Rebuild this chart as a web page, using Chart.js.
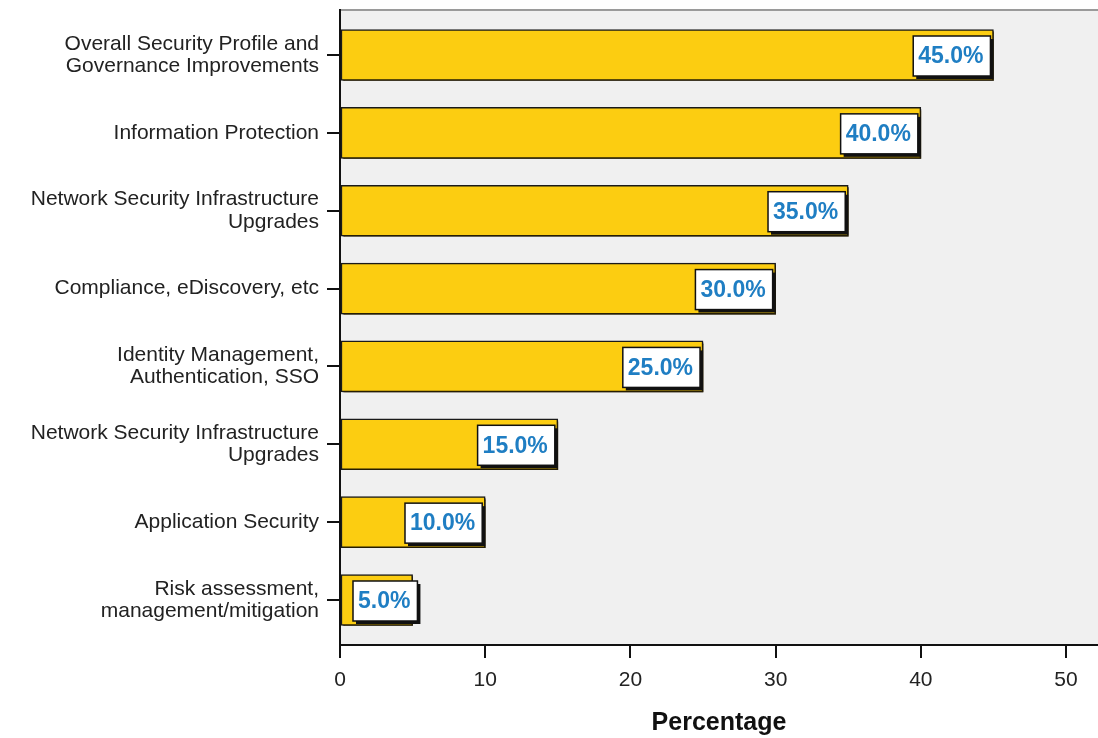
<!DOCTYPE html>
<html>
<head>
<meta charset="utf-8">
<script src="https://cdn.jsdelivr.net/npm/chart.js@4.4.0/dist/chart.umd.min.js"></script>
<style>
  html, body { margin: 0; padding: 0; background: #fff; }
  #wrap { width: 1098px; height: 738px; }
</style>
</head>
<body>
<div id="wrap"><canvas id="c"></canvas></div>
<script>
// données
const categories = [
  ["Overall Security Profile and", "Governance Improvements"],
  ["Information Protection"],
  ["Network Security Infrastructure", "Upgrades"],
  ["Compliance, eDiscovery, etc"],
  ["Identity Management,", "Authentication, SSO"],
  ["Network Security Infrastructure", "Upgrades"],
  ["Application Security"],
  ["Risk assessment,", "management/mitigation"]
]
const percentages = [45, 40, 35, 30, 25, 15, 10, 5]
const xTicks = [0, 10, 20, 30, 40, 50]

const FONT = "'Liberation Sans', Arial, sans-serif"

// fond gris de la zone de tracé
const panelPlugin = {
  id: "panel",
  beforeDraw(chart) {
    const { ctx, chartArea: a } = chart
    ctx.save()
    ctx.fillStyle = "#f0f0f0"
    ctx.fillRect(a.left, a.top, a.right - a.left, a.bottom - a.top)
    ctx.strokeStyle = "#9a9a9a"
    ctx.lineWidth = 2
    ctx.beginPath()
    ctx.moveTo(a.left, a.top)
    ctx.lineTo(a.right, a.top)
    ctx.stroke()
    ctx.restore()
  }
}

// ombre sous les barres
const shadowPlugin = {
  id: "barShadow",
  beforeDatasetDraw(chart) {
    const ctx = chart.ctx
    ctx.save()
    ctx.shadowColor = "rgba(40, 30, 0, 0.85)"
    ctx.shadowOffsetX = 2
    ctx.shadowOffsetY = 2
    ctx.shadowBlur = 0
  },
  afterDatasetDraw(chart) {
    chart.ctx.restore()
  }
}

// étiquettes de valeur dans des boîtes blanches
const valueLabelPlugin = {
  id: "valueLabels",
  afterDatasetsDraw(chart) {
    const { ctx, chartArea: a } = chart
    const meta = chart.getDatasetMeta(0)
    ctx.save()
    ctx.font = "bold 23px " + FONT
    ctx.textBaseline = "middle"
    ctx.textAlign = "left"
    meta.data.forEach((bar, i) => {
      const txt = percentages[i].toFixed(1) + "%"
      const w = ctx.measureText(txt).width + 12
      const h = 40
      const right = Math.max(bar.x - 3, a.left + 13 + w)
      const left = right - w
      const top = bar.y - h / 2 + 1
      ctx.fillStyle = "#111"
      ctx.fillRect(left + 3, top + 3, w, h)
      ctx.fillStyle = "#fff"
      ctx.fillRect(left, top, w, h)
      ctx.strokeStyle = "#111"
      ctx.lineWidth = 1.5
      ctx.strokeRect(left, top, w, h)
      ctx.fillStyle = "#1f7ec3"
      ctx.fillText(txt, left + 5, bar.y + 2)
    })
    ctx.restore()
  }
}

new Chart(document.getElementById("c"), {
  type: "bar",
  data: {
    datasets: [
      {
        data: percentages.map((v, i) => ({ x: v, y: i })),
        backgroundColor: "#fccd11",
        borderColor: "#1a1a1a",
        borderWidth: 1.5,
        borderSkipped: false,
        barThickness: 51
      }
    ]
  },
  options: {
    indexAxis: "y",
    responsive: true,
    maintainAspectRatio: false,
    animation: false,
    layout: { padding: { top: 10, right: 0, left: 0, bottom: 0 } },
    plugins: {
      legend: { display: false },
      tooltip: { enabled: false }
    },
    scales: {
      x: {
        type: "linear",
        min: 0,
        max: 52.2,
        afterBuildTicks: (s) => { s.ticks = xTicks.map((v) => ({ value: v })) },
        afterFit: (s) => { s.height = 93; s.paddingRight = 0 },
        border: { display: true, color: "#111", width: 2 },
        grid: { drawOnChartArea: false, drawTicks: true, tickLength: 13, color: "#111", lineWidth: 2 },
        ticks: { color: "#222", font: { family: FONT, size: 21 }, padding: 10, maxRotation: 0 },
        title: {
          display: true,
          text: "Percentage",
          color: "#111",
          font: { family: FONT, size: 25, weight: "bold" },
          padding: { top: 0, bottom: 0 }
        }
      },
      y: {
        type: "linear",
        min: -0.578,
        max: 7.578,
        reverse: true,
        offset: false,
        afterBuildTicks: (s) => { s.ticks = categories.map((c, i) => ({ value: i })) },
        afterFit: (s) => { s.width = 340; s.paddingTop = 0; s.paddingBottom = 0 },
        border: { display: true, color: "#111", width: 2 },
        grid: { offset: false, drawOnChartArea: false, drawTicks: true, tickLength: 13, color: "#111", lineWidth: 2 },
        ticks: {
          color: "#222",
          font: { family: FONT, size: 21, lineHeight: 1.05 },
          padding: 8,
          autoSkip: false,
          callback: (v) => categories[v]
        }
      }
    }
  },
  plugins: [panelPlugin, shadowPlugin, valueLabelPlugin]
})
</script>
</body>
</html>
